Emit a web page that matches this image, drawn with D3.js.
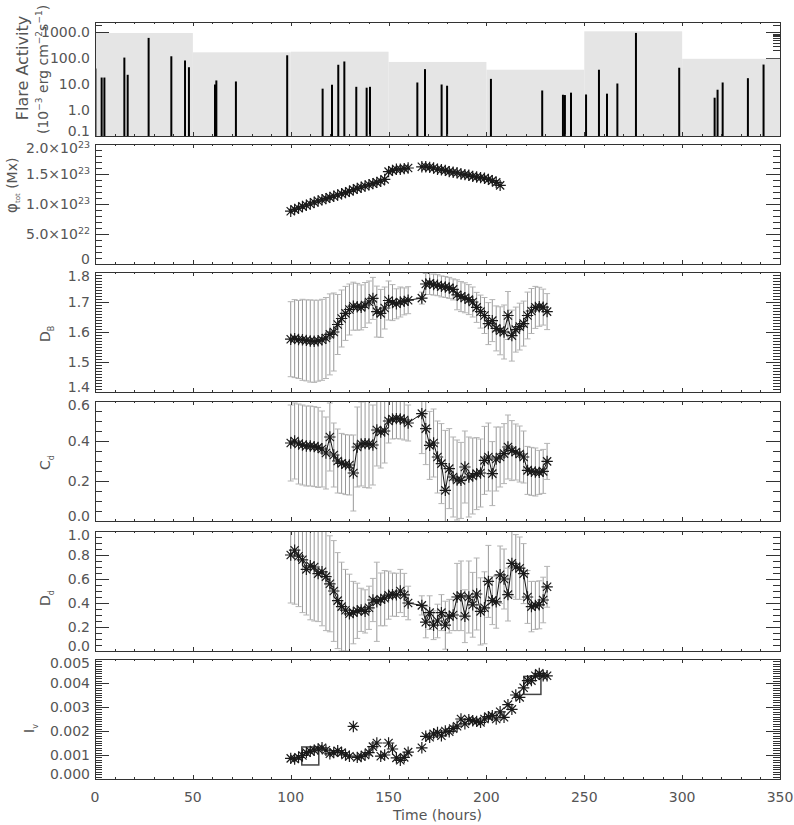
<!DOCTYPE html>
<html>
<head>
<meta charset="utf-8">
<title>Flare activity and magnetic parameters</title>
<script src="https://cdn.jsdelivr.net/npm/d3@7"></script>
<style>
body { margin: 0; background: #fff; }
svg text { font-family: "DejaVu Sans", sans-serif; fill: #555; }
</style>
</head>
<body>
<script>

// ---- data ----
var hours = [100,102,104,106,108,110,112,114,116,118,120,122,124,126,128,130,132,134,136,138,140,142,144,146,148,150,152,154,156,158,160,
	167,
	169,171,173,175,177,179,181,183,185,187,189,191,193,195,197,199,201,203,205,207,209,211,213,215,217,219,221,223,225,227,229,231];

// total flux, in units of 1e23 Mx (first 52 hours)
var phiTot = [0.88,0.91,0.93,0.96,0.98,1.00,1.03,1.05,1.07,1.09,1.11,1.13,1.15,1.17,1.19,1.21,1.24,1.26,1.28,1.30,1.32,1.34,1.36,1.38,1.41,1.54,1.56,1.58,1.58,1.59,1.60,
	1.62,
	1.62,1.61,1.60,1.58,1.57,1.56,1.54,1.53,1.52,1.50,1.49,1.48,1.46,1.45,1.44,1.43,1.41,1.39,1.36,1.31];

var dB = [1.576,1.578,1.575,1.574,1.572,1.570,1.569,1.571,1.574,1.580,1.592,1.600,1.625,1.645,1.662,1.675,1.686,1.684,1.682,1.690,1.700,1.712,1.668,1.662,1.680,1.705,1.698,1.694,1.700,1.702,1.706,
	1.713,
	1.760,1.762,1.758,1.756,1.752,1.750,1.747,1.742,1.724,1.718,1.714,1.708,1.700,1.682,1.668,1.655,1.628,1.638,1.612,1.604,1.600,1.655,1.588,1.608,1.618,1.628,1.655,1.670,1.682,1.684,1.683,1.668];
var dBErr = [0.125,0.13,0.13,0.135,0.135,0.137,0.137,0.135,0.135,0.135,0.135,0.13,
	0.10,0.095,0.09,0.085,0.08,0.078,0.075,0.075,0.07,0.07,
	0.085,0.08,0.07,0.065,0.06,0.05,0.05,0.045,0.045,
	0.02,
	0.035,0.037,0.035,0.035,0.035,0.035,0.035,0.035,
	0.05,0.05,0.05,0.05,0.05,0.05,0.055,0.06,
	0.07,0.07,0.075,0.08,0.09,0.08,0.085,
	0.075,0.078,0.075,0.078,0.075,0.07,0.065,0.06,0.06];

var cD = [0.39,0.40,0.385,0.38,0.375,0.375,0.372,0.368,0.36,0.34,0.42,0.33,0.30,0.288,0.282,0.28,0.24,0.37,0.385,0.387,0.385,0.38,0.455,0.445,0.45,0.50,0.51,0.512,0.51,0.505,0.49,
	0.537,
	0.462,0.378,0.39,0.32,0.287,0.153,0.262,0.22,0.205,0.203,0.27,0.22,0.225,0.237,0.24,0.303,0.32,0.237,0.31,0.32,0.337,0.37,0.352,0.345,0.335,0.32,0.253,0.248,0.245,0.243,0.248,0.298];
var cDErr = [0.19,0.19,0.2,0.2,0.2,0.2,0.2,0.2,0.19,0.18,
	0.17,0.16,0.16,0.15,0.15,0.15,0.19,
	0.2,0.21,0.22,0.22,0.2,
	0.18,0.18,0.16,0.11,0.1,0.1,0.1,0.1,0.09,
	0.2,
	0.18,0.17,0.17,0.18,0.2,0.3,0.2,
	0.2,0.2,0.19,0.18,0.2,0.19,0.18,0.17,
	0.17,0.17,0.16,0.16,0.15,0.15,0.16,0.15,0.14,0.14,0.13,
	0.12,0.12,0.12,0.11,0.11,0.09];

var dD = [0.80,0.84,0.79,0.76,0.68,0.71,0.70,0.645,0.66,0.62,0.56,0.50,0.42,0.37,0.34,0.31,0.32,0.335,0.343,0.33,0.36,0.425,0.41,0.43,0.44,0.465,0.47,0.468,0.50,0.467,0.40,
	0.38,
	0.24,0.32,0.215,0.25,0.32,0.215,0.29,0.30,0.45,0.46,0.29,0.45,0.385,0.475,0.33,0.36,0.58,0.42,0.41,0.635,0.60,0.47,0.73,0.70,0.69,0.645,0.45,0.37,0.38,0.385,0.425,0.535];
var dDErr = [0.40,0.45,0.42,0.44,0.38,0.45,0.45,0.40,0.45,0.45,
	0.40,0.42,0.40,0.37,0.34,0.33,0.26,0.23,0.18,0.18,
	0.18,0.18,0.33,0.22,0.23,0.2,0.18,0.18,0.18,0.18,0.14,
	0.08,
	0.13,0.14,0.12,0.14,0.15,0.2,0.14,0.13,0.28,0.29,0.22,0.3,0.27,0.3,0.28,0.3,
	0.3,0.2,0.22,0.24,0.25,0.22,0.28,0.27,0.26,0.25,0.22,0.21,0.2,0.2,0.19,0.17];

var iV = [0.00086,0.00083,0.0009,0.00098,0.0011,0.00115,0.0012,0.00125,0.0013,0.0012,0.00105,0.0011,0.00118,0.0011,0.001,0.00095,0.00219,0.0009,0.00094,0.001,0.0011,0.00135,0.0015,0.00095,0.001,0.0015,0.00125,0.00088,0.00078,0.0009,0.00112,
	0.0013,
	0.00178,0.00174,0.00188,0.00194,0.0018,0.002,0.00197,0.0021,0.0022,0.0025,0.0023,0.00247,0.00243,0.0024,0.00236,0.0025,0.0026,0.00264,0.0025,0.0028,0.00257,0.0031,0.0029,0.0035,0.0034,0.0038,0.0041,0.0041,0.0043,0.0044,0.0043,0.0043];

var boxHours = [110, 223.5];
var boxValues = [0.00096, 0.0039];

// flares: peak time (h) and peak flux (1e-3 erg cm-2 s-1)
var flareHours = [0.2,3.4,4.8,15.0,16.7,27.4,39.0,46.0,48.0,61.3,62.0,72.0,98.2,116.3,121.1,124.3,127.4,133.5,138.8,140.5,
	164.7,168.6,177.1,179.9,202.3,228.5,239.1,240.1,243.2,250.9,257.5,261.6,266.9,276.4,298.5,316.6,318.1,320.7,333.6,341.6];
var flarePeak = [40,18,18,106,23,609,119,82,45,9.7,13.9,12.7,130,6.7,9.5,56,75,7.9,7.3,7.9,
	11.6,38,9.7,8.7,16,5.7,3.9,3.8,4.7,4.0,36,4.3,10.6,948,43,3.0,6.1,11.6,17,57];
// 50-hour windows, shaded up to the window's level
var windowStart = [0,50,100,150,200,250,300];
var windowLevel = [940,169,179,72,36,1094,95];

// tick labels
var timeTicks = [0,50,100,150,200,250,300,350];
var flareTicks = [0.1,1,10,100,1000];
var flareLabels = ["0.1","1.0","10.0","100.0","1000.0"];
var phiTicks = [0,0.5,1,1.5,2];
var phiLabels = [["0",""],["5.0\u00d710","22"],["1.0\u00d710","23"],["1.5\u00d710","23"],["2.0\u00d710","23"]];
var dBTicks = [1.4,1.5,1.6,1.7,1.8];
var dBLabels = ["1.4","1.5","1.6","1.7","1.8"];
var cDTicks = [0,0.2,0.4,0.6];
var cDLabels = ["0.0","0.2","0.4","0.6"];
var dDTicks = [0,0.2,0.4,0.6,0.8,1.0];
var dDLabels = ["0.0","0.2","0.4","0.6","0.8","1.0"];
var iVTicks = [0,0.001,0.002,0.003,0.004,0.005];
var iVLabels = ["0.000","0.001","0.002","0.003","0.004","0.005"];

// ---- layout ----
var W = 794, H = 825;
var left = 95, right = 780;
var panelBox = [[22,136],[144,264],[272,392],[401,521],[531,651],[659,779]];

var svg = d3.select("body").append("svg")
	.attr("width", W)
	.attr("height", H);

var x = d3.scaleLinear().domain([0, 350]).range([left, right]);

var asterisk = {
	draw: function(ctx, size) {
		var r = Math.sqrt(size) / 2, d = r * 0.72;
		ctx.moveTo(-r, 0); ctx.lineTo(r, 0);
		ctx.moveTo(0, -r); ctx.lineTo(0, r);
		ctx.moveTo(-d, -d); ctx.lineTo(d, d);
		ctx.moveTo(-d, d); ctx.lineTo(d, -d);
	}
};
var star = d3.symbol().type(asterisk).size(130);

function makePanel(i) {
	var top = panelBox[i][0], bottom = panelBox[i][1];
	var g = svg.append("g");
	g.append("clipPath").attr("id", "clip" + i)
		.append("rect")
		.attr("x", left).attr("y", top)
		.attr("width", right - left).attr("height", bottom - top);
	return {
		top: top, bottom: bottom,
		yLayer: g.append("g"),
		data: g.append("g").attr("clip-path", "url(#clip" + i + ")"),
		xLayer: g.append("g")
	};
}

function styleAxis(a) {
	a.select(".domain").remove();
	a.selectAll("line").attr("stroke", "#333").attr("shape-rendering", "crispEdges");
}

function yTicks(p, y, majors, minors) {
	[[d3.axisLeft, left], [d3.axisRight, right]].forEach(function(s) {
		[[majors, 14], [minors, 7]].forEach(function(m) {
			var ax = s[0](y).tickValues(m[0]).tickSizeInner(-m[1]).tickSizeOuter(0).tickFormat("");
			styleAxis(p.yLayer.append("g").attr("transform", "translate(" + s[1] + ",0)").call(ax));
		});
	});
}

function xTicks(p, withLabels) {
	var minors = d3.range(0, 351, 10);
	[[d3.axisBottom, p.bottom], [d3.axisTop, p.top]].forEach(function(s) {
		[[timeTicks, 4], [minors, 2]].forEach(function(m) {
			var ax = s[0](x).tickValues(m[0]).tickSizeInner(-m[1]).tickSizeOuter(0).tickFormat("");
			styleAxis(p.xLayer.append("g").attr("transform", "translate(0," + s[1] + ")").call(ax));
		});
	});
	p.xLayer.append("rect")
		.attr("x", left).attr("y", p.top)
		.attr("width", right - left).attr("height", p.bottom - p.top)
		.attr("fill", "none").attr("stroke", "#333").attr("shape-rendering", "crispEdges");
	if (withLabels) {
		p.xLayer.selectAll(".xlab").data(timeTicks).enter().append("text")
			.attr("x", function(d) { return x(d); })
			.attr("y", p.bottom + 23)
			.attr("text-anchor", "middle")
			.style("font-size", "14px")
			.text(function(d) { return d; });
	}
}

function yLabels(p, y, values, labels) {
	values.forEach(function(v, k) {
		var yy = Math.max(p.top + 4, Math.min(p.bottom - 5, y(v)));
		var t = p.xLayer.append("text")
			.attr("x", left - 5).attr("y", yy).attr("dy", "0.35em")
			.attr("text-anchor", "end")
			.style("font-size", "14px");
		var lab = labels[k];
		if (Array.isArray(lab)) {
			t.append("tspan").text(lab[0]);
			if (lab[1]) t.append("tspan").attr("dy", -5).style("font-size", "9.5px").text(lab[1]);
		} else {
			t.text(lab);
		}
	});
}

// rotated axis title: parts are [text, size, dy]
function yTitle(px, py, anchor, parts) {
	var t = svg.append("text")
		.attr("transform", "translate(" + px + "," + py + ") rotate(-90)")
		.attr("text-anchor", anchor);
	parts.forEach(function(pt) {
		t.append("tspan").attr("dy", pt[2] || 0).style("font-size", pt[1] + "px").text(pt[0]);
	});
}

function errorBars(p, y, vals, errs) {
	var g = p.data.append("g").attr("stroke", "#999").attr("stroke-width", 1);
	vals.forEach(function(v, k) {
		var cx = x(hours[k]), y0 = y(v - errs[k]), y1 = y(v + errs[k]);
		g.append("line").attr("x1", cx).attr("x2", cx).attr("y1", y0).attr("y2", y1);
		g.append("line").attr("x1", cx - 3).attr("x2", cx + 3).attr("y1", y0).attr("y2", y0).attr("stroke", "#b5b5b5");
		g.append("line").attr("x1", cx - 3).attr("x2", cx + 3).attr("y1", y1).attr("y2", y1).attr("stroke", "#b5b5b5");
	});
}

function connect(p, y, vals) {
	var line = d3.line()
		.x(function(d, k) { return x(hours[k]); })
		.y(function(d) { return y(d); });
	p.data.append("path").datum(vals)
		.attr("d", line)
		.attr("fill", "none").attr("stroke", "#111").attr("stroke-width", 1);
}

function stars(p, y, vals) {
	p.data.append("g").selectAll("path").data(vals).enter().append("path")
		.attr("transform", function(d, k) { return "translate(" + x(hours[k]) + "," + y(d) + ")"; })
		.attr("d", star)
		.attr("fill", "none").attr("stroke", "#1a1a1a").attr("stroke-width", 1.2);
}

// ---- panel 1: flares ----
var p1 = makePanel(0);
var y1 = d3.scaleLog().domain([0.1, 2500]).range([p1.bottom, p1.top]);
var logMinors = [];
[0.1, 1, 10, 100, 1000].forEach(function(dec) {
	d3.range(2, 10).forEach(function(m) { if (dec * m < 2500) logMinors.push(dec * m); });
});
yTicks(p1, y1, flareTicks, logMinors);
p1.data.selectAll(".win").data(windowStart).enter().append("rect")
	.attr("x", function(d) { return x(d); })
	.attr("width", function(d) { return x(d + 50) - x(d); })
	.attr("y", function(d, k) { return y1(windowLevel[k]); })
	.attr("height", function(d, k) { return p1.bottom - y1(windowLevel[k]); })
	.attr("fill", "#e5e5e5");
p1.data.selectAll(".flare").data(flareHours).enter().append("line")
	.attr("x1", function(d) { return x(d); })
	.attr("x2", function(d) { return x(d); })
	.attr("y1", p1.bottom)
	.attr("y2", function(d, k) { return y1(flarePeak[k]); })
	.attr("stroke", "#000").attr("stroke-width", 2);
xTicks(p1, false);
yLabels(p1, y1, flareTicks, flareLabels);
yTitle(28, 68, "middle", [["Flare Activity", 16]]);
yTitle(48, 134, "start", [["(10", 14], ["\u22123", 9, -6], [" erg cm", 14, 6], ["\u22122", 9, -6], ["s", 14, 6], ["\u22121", 9, -6], [")", 14, 6]]);

// ---- panel 2: total flux ----
var p2 = makePanel(1);
var y2 = d3.scaleLinear().domain([0, 2]).range([p2.bottom, p2.top]);
yTicks(p2, y2, phiTicks, d3.range(0, 2.001, 0.1));
stars(p2, y2, phiTot);
xTicks(p2, false);
yLabels(p2, y2, phiTicks, phiLabels);
yTitle(17, 213, "start", [["\u03c6", 15], ["tot", 7, 3], [" (Mx)", 14, -3]]);

// ---- panel 3: D_B ----
var p3 = makePanel(2);
var y3 = d3.scaleLinear().domain([1.4, 1.8]).range([p3.bottom, p3.top]);
yTicks(p3, y3, dBTicks, d3.range(1.4, 1.8001, 0.01));
errorBars(p3, y3, dB, dBErr);
connect(p3, y3, dB);
stars(p3, y3, dB);
xTicks(p3, false);
yLabels(p3, y3, dBTicks, dBLabels);
yTitle(50, 342, "start", [["D", 14], ["B", 8, 4]]);

// ---- panel 4: C_d ----
var p4 = makePanel(3);
var y4 = d3.scaleLinear().domain([0, 0.6]).range([p4.bottom, p4.top]);
yTicks(p4, y4, cDTicks, d3.range(0, 0.6001, 0.05));
errorBars(p4, y4, cD, cDErr);
connect(p4, y4, cD);
stars(p4, y4, cD);
xTicks(p4, false);
yLabels(p4, y4, cDTicks, cDLabels);
yTitle(50, 470, "start", [["C", 14], ["d", 8, 4]]);

// ---- panel 5: D_d ----
var p5 = makePanel(4);
var y5 = d3.scaleLinear().domain([0, 1]).range([p5.bottom, p5.top]);
yTicks(p5, y5, dDTicks, d3.range(0, 1.0001, 0.05));
errorBars(p5, y5, dD, dDErr);
connect(p5, y5, dD);
stars(p5, y5, dD);
xTicks(p5, false);
yLabels(p5, y5, dDTicks, dDLabels);
yTitle(50, 606, "start", [["D", 14], ["d", 8, 4]]);

// ---- panel 6: I_v ----
var p6 = makePanel(5);
var y6 = d3.scaleLinear().domain([0, 0.005]).range([p6.bottom, p6.top]);
yTicks(p6, y6, iVTicks, d3.range(0, 0.00501, 0.0001));
p6.data.selectAll(".box").data(boxHours).enter().append("rect")
	.attr("x", function(d) { return x(d) - 8.5; })
	.attr("y", function(d, k) { return y6(boxValues[k]) - 9; })
	.attr("width", 17).attr("height", 18)
	.attr("fill", "none").attr("stroke", "#444").attr("stroke-width", 1.5);
stars(p6, y6, iV);
xTicks(p6, true);
yLabels(p6, y6, iVTicks, iVLabels);
yTitle(34, 733, "start", [["I", 14], ["v", 8, 4]]);

svg.append("text")
	.attr("x", (left + right) / 2)
	.attr("y", 820)
	.attr("text-anchor", "middle")
	.style("font-size", "14px")
	.text("Time (hours)");

</script>
</body>
</html>
